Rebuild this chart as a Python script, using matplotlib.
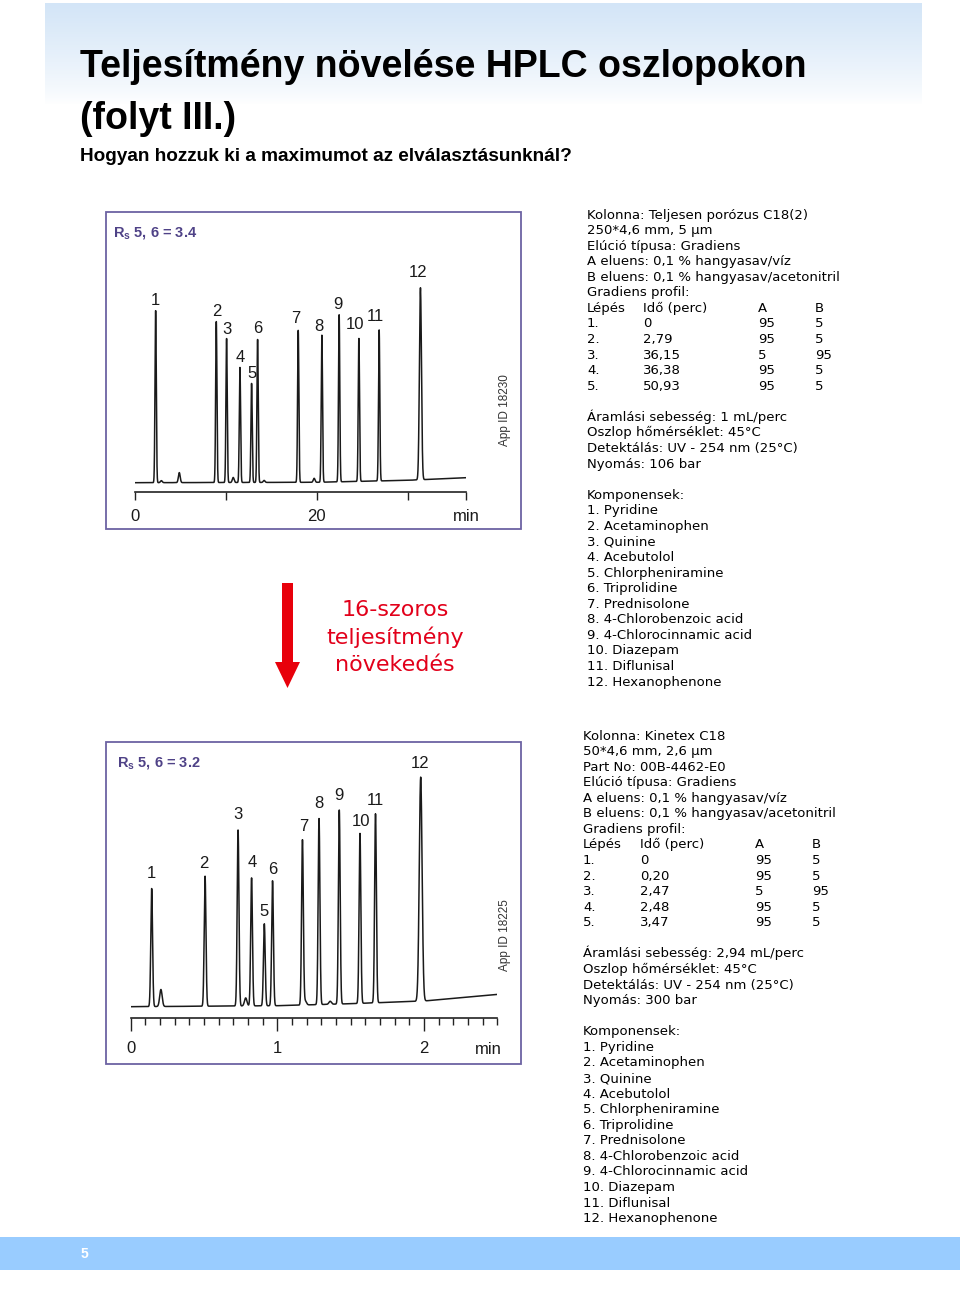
import numpy as np
import matplotlib
matplotlib.use('Agg')
import matplotlib.pyplot as plt
from matplotlib.patches import Rectangle, FancyArrow
from matplotlib.colors import LinearSegmentedColormap

NARROW = ['Liberation Sans Narrow', 'Liberation Sans', 'DejaVu Sans']
BODY = ['DejaVu Sans']

# chromatogram 1 - fully porous C18(2), 250*4,6 mm
peaks1_time = [2.27, 8.94, 10.07, 11.54, 12.82, 13.48, 17.95, 20.55, 22.45, 24.62, 26.85, 31.39]
peaks1_height = [172, 161, 144, 115, 99, 143, 152, 147, 167, 143, 151, 192]
minor1_time = [2.9, 4.87, 10.8, 14.2, 19.7]
minor1_height = [2, 10, 5, 2, 4]
base1_time = [0, 20, 30, 36.4]
base1_level = [9.3, 9.7, 11.7, 14.3]

# chromatogram 2 - Kinetex C18, 50*4,6 mm
peaks2_time = [0.143, 0.507, 0.732, 0.824, 0.911, 0.967, 1.171, 1.284, 1.422, 1.563, 1.669, 1.977]
peaks2_height = [118, 130, 176, 128, 82, 125, 165, 186, 194, 170, 189, 224]
minor2_time = [0.206, 0.784, 1.19, 1.36]
minor2_height = [17, 8, 4, 3]
base2_time = [0, 1.0, 1.5, 2.0, 2.5]
base2_level = [11, 12, 14, 16.7, 23.3]

peak_labels = [str(i) for i in range(1, 13)]

info1 = ['Kolonna: Teljesen porózus C18(2)', '250*4,6 mm, 5 µm', 'Elúció típusa: Gradiens',
         'A eluens: 0,1 % hangyasav/víz', 'B eluens: 0,1 % hangyasav/acetonitril', 'Gradiens profil:']
grad1 = [['Lépés', 'Idő (perc)', 'A', 'B'], ['1.', '0', '95', '5'], ['2.', '2,79', '95', '5'],
         ['3.', '36,15', '5', '95'], ['4.', '36,38', '95', '5'], ['5.', '50,93', '95', '5']]
cond1 = ['Áramlási sebesség: 1 mL/perc', 'Oszlop hőmérséklet: 45°C',
         'Detektálás: UV - 254 nm (25°C)', 'Nyomás: 106 bar']

info2 = ['Kolonna: Kinetex C18', '50*4,6 mm, 2,6 µm', 'Part No: 00B-4462-E0', 'Elúció típusa: Gradiens',
         'A eluens: 0,1 % hangyasav/víz', 'B eluens: 0,1 % hangyasav/acetonitril', 'Gradiens profil:']
grad2 = [['Lépés', 'Idő (perc)', 'A', 'B'], ['1.', '0', '95', '5'], ['2.', '0,20', '95', '5'],
         ['3.', '2,47', '5', '95'], ['4.', '2,48', '95', '5'], ['5.', '3,47', '95', '5']]
cond2 = ['Áramlási sebesség: 2,94 mL/perc', 'Oszlop hőmérséklet: 45°C',
         'Detektálás: UV - 254 nm (25°C)', 'Nyomás: 300 bar']

components = ['Pyridine', 'Acetaminophen', 'Quinine', 'Acebutolol', 'Chlorpheniramine', 'Triprolidine',
              'Prednisolone', '4-Chlorobenzoic acid', '4-Chlorocinnamic acid', 'Diazepam',
              'Diflunisal', 'Hexanophenone']

W, H = 960, 1315
fig = plt.figure(figsize=(W / 100, H / 100), dpi=100)
fig.patch.set_facecolor('white')

# header gradient
ax_bg = fig.add_axes([45 / W, 1 - 105 / H, (922 - 45) / W, 102 / H])
grad_cmap = LinearSegmentedColormap.from_list('hdr', ['#ffffff', '#e9f2fb', '#d3e5f7'])
ax_bg.imshow(np.linspace(1, 0, 100)[:, None] ** 0.8, aspect='auto', cmap=grad_cmap, vmin=0, vmax=1)
ax_bg.axis('off')

# page overlay in pixel coords
page = fig.add_axes([0, 0, 1, 1], zorder=1)
page.set_xlim(0, W)
page.set_ylim(H, 0)
page.axis('off')
page.patch.set_alpha(0)

page.text(80, 77, 'Teljesítmény növelése HPLC oszlopokon', family=NARROW, weight='bold',
          fontsize=27, va='baseline', ha='left', color='black')
page.text(80, 129, '(folyt III.)', family=NARROW, weight='bold',
          fontsize=27, va='baseline', ha='left', color='black')
page.text(80, 161, 'Hogyan hozzuk ki a maximumot az elválasztásunknál?', family=NARROW, weight='bold',
          fontsize=13.7, va='baseline', ha='left', color='black')

# chromatogram frames
frame_col = '#6c62a2'
page.add_patch(Rectangle((106, 212), 415, 317, fill=False, ec=frame_col, lw=1.3))
page.add_patch(Rectangle((106, 742), 415, 322, fill=False, ec=frame_col, lw=1.3))

page.text(113, 236, r'R$\mathregular{_s}$ 5, 6 = 3.4', family=NARROW, fontsize=10.5,
          weight='bold', color='#4f4287', va='baseline')
page.text(117, 766, r'R$\mathregular{_s}$ 5, 6 = 3.2', family=NARROW, fontsize=10.5,
          weight='bold', color='#4f4287', va='baseline')
page.text(505, 410, 'App ID 18230', family=NARROW, fontsize=8.5, rotation=90,
          ha='center', va='center', color='#333333')
page.text(505, 935, 'App ID 18225', family=NARROW, fontsize=8.5, rotation=90,
          ha='center', va='center', color='#333333')

# arrow + red text
page.add_patch(FancyArrow(287.5, 583, 0, 105, width=11, head_width=25, head_length=26,
                          length_includes_head=True, color='#e8000b', lw=0))
for i, s in enumerate(['16-szoros', 'teljesítmény', 'növekedés']):
    page.text(395, 610 + i * 27.5, s, family=BODY, fontsize=16, color='#e2001a',
              ha='center', va='center')

# bottom bar
page.add_patch(Rectangle((0, 1237), W, 33, color='#99ccff', lw=0))
page.text(84, 1254, '5', family=NARROW, weight='bold', fontsize=10, color='white',
          ha='center', va='center')


def info_block(x0, cols, y0, info, grad, cond):
    step = 15.57
    lines = []
    for s in info:
        lines.append([s])
    for row in grad:
        lines.append(row)
    lines.append(None)
    for s in cond:
        lines.append([s])
    lines.append(None)
    lines.append(['Komponensek:'])
    for i, c in enumerate(components):
        lines.append(['%d. %s' % (i + 1, c)])
    for i, row in enumerate(lines):
        if row is None:
            continue
        y = y0 + i * step + 4.5
        for j, s in enumerate(row):
            page.text(cols[j], y, s, family=BODY, fontsize=9.5, va='baseline', ha='left',
                      color='black')


info_block(587, [587, 643, 758, 815], 214, info1, grad1, cond1)
info_block(583, [583, 640, 755, 812], 735, info2, grad2, cond2)


def chrom(left, right, bottom, top, xmax, ymax, ptime, pheight, mtime, mheight,
          btime, blevel, sigma, ticks, ticklabels, minor, tlen, pad, lab_off, lab_dx):
    ax = fig.add_axes([left / W, 1 - bottom / H, (right - left) / W, (bottom - top) / H], zorder=2)
    ax.patch.set_alpha(0)
    t = np.linspace(0, xmax, 6000)
    y = np.interp(t, btime, blevel)
    for k, (tr, h) in enumerate(zip(ptime, pheight)):
        s = sigma * (1.6 if k == len(ptime) - 1 else 1.0)
        y = y + h * np.exp(-0.5 * ((t - tr) / s) ** 2)
    for tr, h in zip(mtime, mheight):
        y = y + h * np.exp(-0.5 * ((t - tr) / (sigma * 1.4)) ** 2)
    ax.plot(t, y, color='#1a1a1a', lw=1.1)
    for k, (tr, h) in enumerate(zip(ptime, pheight)):
        yb = np.interp(tr, btime, blevel)
        ax.annotate(peak_labels[k], (tr, yb + h), xytext=(lab_dx[k], lab_off[k]),
                    textcoords='offset pixels', ha='center', va='center',
                    family=NARROW, fontsize=12, color='#1a1a1a')
    ax.set_xlim(0, xmax)
    ax.set_ylim(0, ymax)
    for sp in ['left', 'right', 'top']:
        ax.spines[sp].set_visible(False)
    ax.spines['bottom'].set_color('#222222')
    ax.spines['bottom'].set_linewidth(1.2)
    ax.set_yticks([])
    ax.set_xticks(ticks)
    ax.set_xticklabels(ticklabels, family=NARROW, fontsize=12, color='#1a1a1a')
    ax.tick_params(axis='x', direction='out', length=tlen, width=1.0, color='#222222', pad=pad)
    if minor is not None:
        ax.set_xticks(minor, minor=True)
        ax.tick_params(axis='x', which='minor', direction='out', length=4.8, width=1.0,
                       color='#222222')
    return ax


chrom(135, 466, 492, 260, 36.4, 232, peaks1_time, peaks1_height, minor1_time, minor1_height,
      base1_time, base1_level, 0.07, [0, 10, 20, 30, 36.4], ['0', '', '20', '', 'min'], None, 5.5, 6.7,
      [10, 10, 9, 10, 10, 11, 12, 9, 10, 14, 13, 15], [0, 1, 0, 0, 0, 0, -2, -3, -1, -4, -4, -2])

ax2 = chrom(130.7, 497.4, 1017.7, 770, 2.5, 247.7, peaks2_time, peaks2_height, minor2_time, minor2_height,
            base2_time, base2_level, 0.006, [0, 1, 2], ['0', '1', '2'], list(np.arange(0, 26) / 10), 9, 8,
            [15, 13, 15, 15, 12, 11, 14, 15, 15, 12, 13, 14], [0, -1, 0, 1, 0, 0, 1, 0, 0, 1, 0, -1])
page.text(488, 1050, 'min', family=NARROW, fontsize=12, color='#1a1a1a', ha='center', va='center')

fig.savefig('out.png', dpi=100)
